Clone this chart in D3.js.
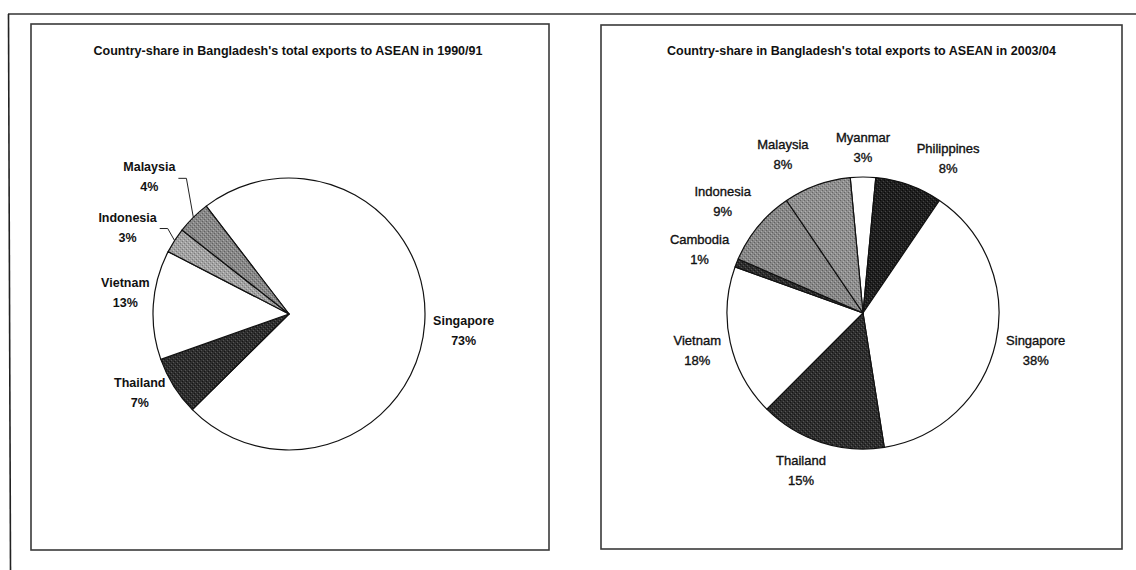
<!DOCTYPE html>
<html><head><meta charset="utf-8">
<script src="https://cdn.jsdelivr.net/npm/d3@7"></script>
<style>html,body{margin:0;padding:0;background:#fff;} svg{display:block;}</style>
</head><body>
<svg id="chart" width="1136" height="570"></svg>
<script>
// ---------- DATA ----------
const title1990 = "Country-share in Bangladesh's total exports to ASEAN in 1990/91";
const countries1990 = ["Singapore", "Thailand", "Vietnam", "Indonesia", "Malaysia"];
const shares1990 = [73, 7, 13, 3, 4];

const title2003 = "Country-share in Bangladesh's total exports to ASEAN in 2003/04";
const countries2003 = ["Myanmar", "Philippines", "Singapore", "Thailand", "Vietnam", "Cambodia", "Indonesia", "Malaysia"];
const shares2003 = [3, 8, 38, 15, 18, 1, 9, 8];

// ---------- STYLE / LAYOUT ----------
const fills1990 = ["white", "dark", "white", "lightgray", "gray"];
const fills2003 = ["white", "darkest", "white", "dark", "white", "dark", "gray", "gray2"];
const labelNudge1990 = [[39, 1.5], [-34, 0.5], [-28, -18], [-47, -19], [-44, -46]];
const labelNudge2003 = [[0, -35], [39, -32], [40, 2], [-20, 23], [-33, 2], [-37, -18.5], [-35.5, -30], [-34, -36]];
const leaders1990 = [false, false, false, true, true];

const svg = d3.select("#chart");
const defs = svg.append("defs");

function makePattern(id, base, light, dark) {
  const p = defs.append("pattern").attr("id", id).attr("patternUnits", "userSpaceOnUse")
    .attr("width", 4).attr("height", 4);
  p.append("rect").attr("width", 4).attr("height", 4).attr("fill", base);
  p.append("rect").attr("x", 0).attr("y", 0).attr("width", 1).attr("height", 1).attr("fill", light);
  p.append("rect").attr("x", 2).attr("y", 2).attr("width", 1).attr("height", 1).attr("fill", light);
  p.append("rect").attr("x", 1).attr("y", 3).attr("width", 1).attr("height", 1).attr("fill", dark);
  p.append("rect").attr("x", 3).attr("y", 1).attr("width", 1).attr("height", 1).attr("fill", dark);
}
makePattern("darkest", "#1f1f1f", "#444", "#0a0a0a");
makePattern("dark", "#2e2e2e", "#555", "#151515");
makePattern("gray", "#878787", "#aaa", "#606060");
makePattern("gray2", "#8f8f8f", "#b0b0b0", "#666");
makePattern("lightgray", "#a2a2a2", "#c4c4c4", "#7a7a7a");
const fillOf = k => k === "white" ? "#ffffff" : `url(#${k})`;

// outer frame lines
svg.append("line").attr("x1", 8).attr("y1", 14).attr("x2", 1136).attr("y2", 14)
  .attr("stroke", "#333").attr("stroke-width", 1.5);
svg.append("line").attr("x1", 8.5).attr("y1", 14).attr("x2", 10.5).attr("y2", 570)
  .attr("stroke", "#222").attr("stroke-width", 1.6);

const charts = [
  { title: title1990, names: countries1990, values: shares1990, fills: fills1990,
    box: [31, 24, 549, 550], cx: 289, cy: 314, r: 136, start: -37.5, titleX: 288,
    nudge: labelNudge1990, leaders: leaders1990, labelWeight: "bold", labelSize: 12.5, labelStroke: 0 },
  { title: title2003, names: countries2003, values: shares2003, fills: fills2003,
    box: [601, 25, 1122, 549], cx: 863, cy: 313, r: 136, start: -5.4, titleX: 861.5,
    nudge: labelNudge2003, leaders: null, labelWeight: "normal", labelSize: 13, labelStroke: 0.35 }
];

const FONT = "'Liberation Sans', Arial, Helvetica, sans-serif";

charts.forEach(c => {
  const g = svg.append("g");
  g.append("rect").attr("x", c.box[0]).attr("y", c.box[1])
    .attr("width", c.box[2] - c.box[0]).attr("height", c.box[3] - c.box[1])
    .attr("fill", "none").attr("stroke", "#3a3a3a").attr("stroke-width", 1.6);

  g.append("text").attr("x", c.titleX).attr("y", 55)
    .attr("text-anchor", "middle").attr("font-family", FONT)
    .attr("font-weight", "bold").attr("font-size", 12)
    .attr("textLength", 389).attr("lengthAdjust", "spacingAndGlyphs")
    .attr("fill", "#111").text(c.title);

  const rows = c.names.map((n, i) => ({ name: n, value: c.values[i], fill: c.fills[i], i }));
  const s = c.start * Math.PI / 180;
  const pie = d3.pie().value(d => d.value).sort(null).startAngle(s).endAngle(s + 2 * Math.PI);
  const arcs = pie(rows);
  const arc = d3.arc().innerRadius(0).outerRadius(c.r);
  const edge = d3.arc().innerRadius(c.r).outerRadius(c.r);

  const pg = g.append("g").attr("transform", `translate(${c.cx},${c.cy})`);
  pg.selectAll("path").data(arcs).join("path")
    .attr("d", arc)
    .attr("fill", d => fillOf(d.data.fill))
    .attr("stroke", "#111").attr("stroke-width", 1.2).attr("stroke-linejoin", "round");

  arcs.forEach((d, k) => {
    const [ax, ay] = edge.centroid(d);
    const [nx, ny] = c.nudge[k];
    const x = c.cx + ax + nx, y = c.cy + ay + ny;
    const mk = (yy, txt) => g.append("text").attr("x", x).attr("y", yy).attr("text-anchor", "middle")
      .attr("font-family", FONT).attr("font-weight", c.labelWeight)
      .attr("font-size", c.labelSize).attr("fill", "#111")
      .attr("stroke", c.labelStroke ? "#111" : "none").attr("stroke-width", c.labelStroke)
      .text(txt);
    const t = mk(y, d.data.name);
    mk(y + 20, d.data.value + "%");
    if (c.leaders && c.leaders[k]) {
      const hw = t.node().getComputedTextLength() / 2;
      const x0 = x + hw + 3, y0 = y + 7;
      g.append("polyline")
        .attr("points", `${x0},${y0} ${x0 + 8},${y0} ${c.cx + ax},${c.cy + ay}`)
        .attr("fill", "none").attr("stroke", "#222").attr("stroke-width", 1);
    }
  });
});
</script>
</body></html>
